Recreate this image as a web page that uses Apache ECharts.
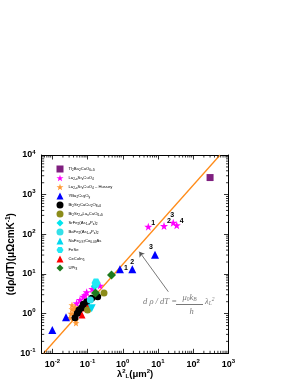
<!DOCTYPE html>
<html><head><meta charset="utf-8">
<script src="https://cdn.jsdelivr.net/npm/echarts@6/dist/echarts.min.js"></script>
<style>html,body{margin:0;padding:0;background:#fff}#c{width:299px;height:387px}</style>
</head><body><div id="c"></div>
<script>
// ---- data ----
const tlX = [300], tlY = [2700];
const lscoX = [5.3, 14.8, 27, 34, 0.225, 0.136, 0.0946, 0.0757, 0.061, 0.049, 0.085];
const lscoY = [156, 162, 196, 169, 5.07, 4.18, 3.45, 2.67, 2.21, 1.82, 2.9];
const lscoLab = ['1', '2', '3', '4', '', '', '', '', '', '', ''];
const husX = [0.0318, 0.0362, 0.0413, 0.047, 0.0536, 0.0413, 0.047, 0.0362, 0.034, 0.044];
const husY = [0.78, 1.65, 1.24, 0.69, 1.1, 0.92, 0.58, 1.3, 1.0, 1.45];
const ybcoX = [0.83, 1.86, 8.2, 0.0245, 0.01];
const ybcoY = [13.1, 13.1, 30.6, 0.81, 0.386];
const ybcoLab = ['1', '2', '3', '', ''];
const bi2212X = [0.044, 0.0512, 0.0571, 0.0682, 0.0757, 0.0946, 0.131, 0.194];
const bi2212Y = [0.79, 1.02, 1.24, 1.41, 1.72, 2.0, 2.44, 2.67];
const bi2201X = [0.293, 0.0998], bi2201Y = [3.3, 1.24];
const srfeX = [0.16], srfeY = [4.9];
const bafeX = [0.12], bafeY = [2.2];
const nafeX = [0.131], nafeY = [1.37];
const feseX = [0.174], feseY = [5.9];
const cecoX = [0.061, 0.079, 0.103, 0.0695], cecoY = [1.1, 1.39, 1.65, 0.92];
const uptX = [0.479, 0.168], uptY = [9.4, 3.3];
const fitX = [0.0057, 575], fitY = [0.1, 10000];
const xMin = 0.005, xMax = 1000, yMin = 0.1, yMax = 10000;

// minor tick values (2..9 x 10^k)
const xMinor = [], yMinor = [];
for (let e = -3; e < 3; e++) for (let m = 2; m <= 9; m++) { const v = m * Math.pow(10, e); if (v > xMin && v < xMax) xMinor.push(v); }
for (let e = -1; e < 4; e++) for (let m = 2; m <= 9; m++) { const v = m * Math.pow(10, e); if (v > yMin && v < yMax) yMinor.push(v); }

const zip = (a, b) => a.map((v, i) => [v, b[i]]);
const star = 'path://M0,-10 L2.35,-3.24 L9.51,-3.09 L3.8,1.24 L5.88,8.09 L0,4 L-5.88,8.09 L-3.8,1.24 L-9.51,-3.09 L-2.35,-3.24 Z';
const hexa = 'path://M-10,0 L-5,-8.66 L5,-8.66 L10,0 L5,8.66 L-5,8.66 Z';

const names = ['Tl2Ba2CuO6+δ', 'La2-xSrxCuO4', 'La2-xSrxCuO4 - Hussey', 'YBa2Cu3Oy', 'Bi2Sr2CaCu2O8+δ',
  'Bi2Sr2-xLaxCuO6+δ', 'SrFe2(As1-xPx)2', 'BaFe2(As1-xPx)2', 'NaFe0.97Co0.03As', 'FeSe', 'CeCoIn5', 'UPt3'];
const richNames = {
  'Tl2Ba2CuO6+δ': 'Tl{s|2}Ba{s|2}CuO{s|6+δ}',
  'La2-xSrxCuO4': 'La{s|2-x}Sr{s|x}CuO{s|4}',
  'La2-xSrxCuO4 - Hussey': 'La{s|2-x}Sr{s|x}CuO{s|4} – Hussey',
  'YBa2Cu3Oy': 'YBa{s|2}Cu{s|3}O{s|y}',
  'Bi2Sr2CaCu2O8+δ': 'Bi{s|2}Sr{s|2}CaCu{s|2}O{s|8+δ}',
  'Bi2Sr2-xLaxCuO6+δ': 'Bi{s|2}Sr{s|2-x}La{s|x}CuO{s|6+δ}',
  'SrFe2(As1-xPx)2': 'SrFe{s|2}(As{s|1-x}P{s|x}){s|2}',
  'BaFe2(As1-xPx)2': 'BaFe{s|2}(As{s|1-x}P{s|x}){s|2}',
  'NaFe0.97Co0.03As': 'NaFe{s|0.97}Co{s|0.03}As',
  'FeSe': 'FeSe',
  'CeCoIn5': 'CeCoIn{s|5}',
  'UPt3': 'UPt{s|3}'
};

const tickFmt = v => { const e = Math.log10(v); const r = Math.round(e); if (Math.abs(e - r) > 1e-6) return ''; return '10{sup|' + r + '}'; };
const axisLabelRich = { sup: { fontSize: 6, fontWeight: 'bold', fontFamily: 'Liberation Sans', padding: [0, 0, 6, 0] } };

function scatter(name, xs, ys, symbol, size, color, extra) {
  return Object.assign({
    name, type: 'scatter', symbol, symbolSize: size,
    itemStyle: { color: color, opacity: 1 },
    data: zip(xs, ys), z: 5
  }, extra || {});
}
function labelled(xs, ys, labs, pos, offs) {
  return xs.map((x, i) => ({
    value: [x, ys[i]],
    label: { show: !!labs[i], formatter: labs[i], position: pos[i] || 'right', distance: 0,
      offset: offs[i] || [0, 0],
      fontSize: 7, fontWeight: 'bold', color: '#000', fontFamily: 'Liberation Sans' }
  }));
}

const series = [
  { name: 'fit', type: 'line', data: zip(fitX, fitY), symbol: 'none', clip: true,
    lineStyle: { color: '#ff8c1a', width: 1.3 }, z: 3, silent: true },
  scatter(names[0], tlX, tlY, 'rect', 7, '#7f1f7f'),
  Object.assign(scatter(names[1], lscoX, lscoY, star, 8, '#ff00ff'),
    { data: labelled(lscoX, lscoY, lscoLab, ['right', 'right', 'top', 'right'], [[-1, -4], [-1, -5], [-1, 0], [-1, -4]]) }),
  scatter(names[2], husX, husY, star, 7, '#ff9933'),
  Object.assign(scatter(names[3], ybcoX, ybcoY, 'triangle', 8, '#0000ff'),
    { data: labelled(ybcoX, ybcoY, ybcoLab, ['right', 'top', 'top'], [[0, -1], [0, 0], [-4, 0]]) }),
  scatter(names[10], cecoX, cecoY, 'triangle', 7, '#ff0000'),
  scatter(names[4], bi2212X, bi2212Y, 'circle', 7, '#000000'),
  scatter(names[5], bi2201X, bi2201Y, 'circle', 7, '#8c8c1a'),
  scatter(names[6], srfeX, srfeY, 'diamond', 8, '#00e5ee'),
  scatter(names[7], bafeX, bafeY, 'circle', 7, '#33e0e8'),
  scatter(names[8], nafeX, nafeY, 'triangle', 8, '#00d8f0', { symbolRotate: 180 }),
  scatter(names[9], feseX, feseY, hexa, 9, '#22e8f5'),
  scatter(names[11], uptX, uptY, 'diamond', 9, '#1e7a1e'),
  // annotation anchored in data space
  { name: 'annot', type: 'scatter', symbolSize: 0, z: 6, silent: true,
    data: [
      { value: [3.75, 1.97], label: { show: true, position: 'right', distance: 0, formatter: 'd ρ / dT =' } },
      { value: [78.2, 2.48], label: { show: true, position: 'inside', formatter: 'μ{b|0}k{b|B}' } },
      { value: [90.3, 1.13], label: { show: true, position: 'inside', formatter: 'h' } },
      { value: [215, 1.97], label: { show: true, position: 'right', distance: 0, formatter: 'λ{b|L}{t|2}' } }
    ],
    label: { fontFamily: 'Liberation Serif', fontStyle: 'italic', fontSize: 8.5, color: '#555',
      rich: { b: { fontSize: 5.5, fontFamily: 'Liberation Serif', fontStyle: 'italic', color: '#555', padding: [4, 0, 0, 0] },
              t: { fontSize: 5.5, fontFamily: 'Liberation Serif', fontStyle: 'italic', color: '#555', padding: [0, 0, 5, 0] } } },
    markLine: { silent: true, animation: false, symbol: ['none', 'none'], label: { show: false },
      data: [
        [{ coord: [19.6, 3.57], symbol: 'none' }, { coord: [2.94, 36.5], symbol: 'arrow', symbolSize: 5 }],
        [{ coord: [32.4, 1.75] }, { coord: [189, 1.75] }]
      ],
      lineStyle: { color: '#555', width: 0.8, type: 'solid' } }
  },
  { name: 'xminor', type: 'custom', silent: true, z: 4, clip: false,
    data: xMinor.map(v => [v, yMin]),
    renderItem: (params, api) => {
      const v = api.value(0);
      const b = api.coord([v, yMin]), t = api.coord([v, yMax]);
      return { type: 'group', children: [
        { type: 'line', shape: { x1: b[0], y1: b[1], x2: b[0], y2: b[1] - 2.5 }, style: { stroke: '#000', lineWidth: 0.8 } },
        { type: 'line', shape: { x1: t[0], y1: t[1], x2: t[0], y2: t[1] + 2.5 }, style: { stroke: '#000', lineWidth: 0.8 } }
      ] };
    } },
  { name: 'yminor', type: 'custom', silent: true, z: 4, clip: false,
    data: yMinor.map(v => [xMin, v]),
    renderItem: (params, api) => {
      const v = api.value(1);
      const l = api.coord([xMin, v]), r = api.coord([xMax, v]);
      return { type: 'group', children: [
        { type: 'line', shape: { x1: l[0], y1: l[1], x2: l[0] + 2.5, y2: l[1] }, style: { stroke: '#000', lineWidth: 0.8 } },
        { type: 'line', shape: { x1: r[0], y1: r[1], x2: r[0] - 2.5, y2: r[1] }, style: { stroke: '#000', lineWidth: 0.8 } }
      ] };
    } }
];

const baseAxis = {
  type: 'log', logBase: 10,
  axisLine: { show: true, onZero: false, lineStyle: { color: '#000', width: 1 } },
  axisTick: { show: true, inside: true, length: 4.5, lineStyle: { color: '#000', width: 0.8 } },
  splitLine: { show: false }, minorTick: { show: false }
};

const option = {
  animation: false,
  backgroundColor: '#fff',
  grid: { left: 41.7, right: 70.5, top: 155, bottom: 33.7, containLabel: false, outerBoundsMode: 'none' },
  legend: {
    data: names, orient: 'vertical', left: 51.5, top: 159.5,
    itemWidth: 7, itemHeight: 7, itemGap: 0, selectedMode: false,
    formatter: n => richNames[n] || n,
    textStyle: { fontSize: 4.2, color: '#000', fontFamily: 'Liberation Sans', lineHeight: 9,
      rich: { s: { fontSize: 3.2, fontFamily: 'Liberation Sans', color: '#000', padding: [2.5, 0, 0, 0], lineHeight: 9 } } }
  },
  xAxis: [
    Object.assign({}, baseAxis, { min: xMin, max: xMax, position: 'bottom',
      axisLabel: { formatter: tickFmt, fontSize: 9, fontWeight: 'bold', color: '#000', fontFamily: 'Liberation Sans', margin: 5, rich: axisLabelRich },
      name: 'λ{t|2}{s|L}(μm{t|2})', nameLocation: 'middle', nameGap: 15, nameMoveOverlap: false,
      nameTextStyle: { fontSize: 9.5, fontWeight: 'bold', color: '#000', fontFamily: 'Liberation Sans',
        rich: { t: { fontSize: 6, fontWeight: 'bold', fontFamily: 'Liberation Sans', padding: [0, 0, 6, 0] },
                s: { fontSize: 6, fontWeight: 'bold', fontFamily: 'Liberation Sans', padding: [5, 0, 0, 0] } } } }),
    Object.assign({}, baseAxis, { min: xMin, max: xMax, position: 'top', axisLabel: { show: false } })
  ],
  yAxis: [
    Object.assign({}, baseAxis, { min: yMin, max: yMax, position: 'left',
      axisLabel: { formatter: tickFmt, fontSize: 9, fontWeight: 'bold', color: '#000', fontFamily: 'Liberation Sans', margin: 6, rich: axisLabelRich },
      name: '(dρ/dT)(μΩcmK{t|-1})', nameLocation: 'middle', nameGap: 24, nameRotate: 90, nameMoveOverlap: false,
      nameTextStyle: { fontSize: 10, fontWeight: 'bold', color: '#000', fontFamily: 'Liberation Sans',
        rich: { t: { fontSize: 6.5, fontWeight: 'bold', fontFamily: 'Liberation Sans', padding: [0, 0, 6, 0] } } } }),
    Object.assign({}, baseAxis, { min: yMin, max: yMax, position: 'right', axisLabel: { show: false } })
  ],
  series: series
};

const chart = echarts.init(document.getElementById('c'), null, { renderer: 'canvas' });
chart.setOption(option);
</script></body></html>
